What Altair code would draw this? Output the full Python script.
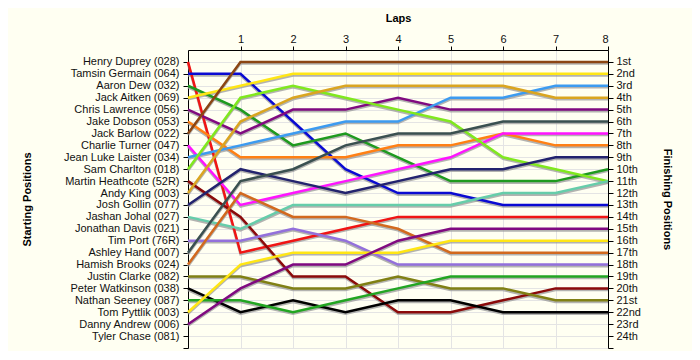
import json
import altair as alt
import pandas as pd

# Starting grid (starting position = index + 1)
drivers = [
    "Henry Duprey (028)", "Tamsin Germain (064)", "Aaron Dew (032)", "Jack Aitken (069)",
    "Chris Lawrence (056)", "Jake Dobson (053)", "Jack Barlow (022)", "Charlie Turner (047)",
    "Jean Luke Laister (034)", "Sam Charlton (018)", "Martin Heathcote (52R)", "Andy King (003)",
    "Josh Gollin (077)", "Jashan Johal (027)", "Jonathan Davis (021)", "Tim Port (76R)",
    "Ashley Hand (007)", "Hamish Brooks (024)", "Justin Clarke (082)", "Peter Watkinson (038)",
    "Nathan Seeney (087)", "Tom Pyttlik (003)", "Danny Andrew (006)", "Tyler Chase (081)",
]

finish_labels = [
    "1st", "2nd", "3rd", "4th", "5th", "6th", "7th", "8th", "9th", "10th", "11th", "12th",
    "13th", "14th", "15th", "16th", "17th", "18th", "19th", "20th", "21st", "22nd", "23rd", "24th",
]

laps = [0, 1, 2, 3, 4, 5, 6, 7, 8]

# Position at the end of each lap (lap 0 = grid)
p_duprey     = [1, 17, 16, 15, 14, 14, 14, 14, 14]
p_germain    = [2, 2, 6, 10, 12, 12, 13, 13, 13]
p_dew        = [3, 5, 8, 7, 9, 11, 11, 11, 10]
p_aitken     = [4, 3, 2, 2, 2, 2, 2, 2, 2]
p_lawrence   = [5, 7, 5, 5, 4, 5, 5, 5, 5]
p_dobson     = [6, 9, 9, 9, 8, 8, 7, 8, 8]
p_barlow     = [7, 1, 1, 1, 1, 1, 1, 1, 1]
p_turner     = [8, 13, 12, 11, 10, 9, 7, 7, 7]
p_laister    = [9, 8, 7, 6, 6, 4, 4, 3, 3]
p_charlton   = [10, 4, 3, 4, 5, 6, 9, 10, 11]
p_heathcote  = [11, 14, 19, 19, 22, 22, 21, 20, 20]
p_king       = [12, 6, 4, 3, 3, 3, 3, 4, 4]
p_gollin     = [13, 10, 11, 12, 11, 10, 10, 9, 9]
p_johal      = [14, 15, 13, 13, 13, 13, 12, 12, 11]
p_port       = [16, 16, 15, 16, 18, 18, 18, 18, 18]
p_hand       = [17, 11, 10, 8, 7, 7, 6, 6, 6]
p_brooks     = [18, 12, 14, 14, 15, 17, 17, 17, 17]
p_clarke     = [19, 19, 20, 20, 19, 20, 20, 21, 21]
p_watkinson  = [20, 22, 21, 22, 21, 21, 22, 22, 22]
p_seeney     = [21, 21, 22, 21, 20, 19, 19, 19, 19]
p_pyttlik    = [22, 18, 17, 17, 17, 16, 16, 16, 16]
p_andrew     = [23, 20, 18, 18, 16, 15, 15, 15, 15]

series = [
    ("Henry Duprey (028)", p_duprey, "#F01414"),
    ("Tamsin Germain (064)", p_germain, "#0A0AD2"),
    ("Aaron Dew (032)", p_dew, "#1E9A1E"),
    ("Jack Aitken (069)", p_aitken, "#FFE614"),
    ("Chris Lawrence (056)", p_lawrence, "#800A80"),
    ("Jake Dobson (053)", p_dobson, "#FF8014"),
    ("Jack Barlow (022)", p_barlow, "#8B4513"),
    ("Charlie Turner (047)", p_turner, "#FF14FF"),
    ("Jean Luke Laister (034)", p_laister, "#3C9BF0"),
    ("Sam Charlton (018)", p_charlton, "#80E81E"),
    ("Martin Heathcote (52R)", p_heathcote, "#8B0A0A"),
    ("Andy King (003)", p_king, "#DAA520"),
    ("Josh Gollin (077)", p_gollin, "#23236E"),
    ("Jashan Johal (027)", p_johal, "#66CDAA"),
    ("Tim Port (76R)", p_port, "#9370DB"),
    ("Ashley Hand (007)", p_hand, "#3A5050"),
    ("Hamish Brooks (024)", p_brooks, "#D2691E"),
    ("Justin Clarke (082)", p_clarke, "#808014"),
    ("Peter Watkinson (038)", p_watkinson, "#000000"),
    ("Nathan Seeney (087)", p_seeney, "#22A522"),
    ("Tom Pyttlik (003)", p_pyttlik, "#FFE614"),
    ("Danny Andrew (006)", p_andrew, "#800A80"),
]

rows = []
for name, pos, _ in series:
    for lap, p in zip(laps, pos):
        rows.append({"driver": name, "lap": lap, "pos": p})
df = pd.DataFrame(rows)

color_scale = alt.Scale(domain=[s[0] for s in series], range=[s[2] for s in series])

left_expr = json.dumps([""] + drivers + [""]) + "[datum.value]"
right_expr = json.dumps([""] + finish_labels + [""]) + "[datum.value]"

FONT = "Liberation Sans"

x_enc = alt.X(
    "lap:Q",
    scale=alt.Scale(domain=[0, 8], nice=False, zero=False),
    axis=alt.Axis(
        orient="top", values=list(range(1, 9)), title="Laps", format="d",
        grid=True, gridColor="#E4E4E4", tickSize=4, labelPadding=2,
        titleY=-32, titleBaseline="middle",
    ),
)

y_left = alt.Y(
    "pos:Q",
    scale=alt.Scale(domain=[0, 25], reverse=True, nice=False, zero=False),
    axis=alt.Axis(
        orient="left", values=list(range(1, 26)), labelExpr=left_expr,
        title="Starting Positions", grid=True, gridColor="#E4E4E4",
        tickSize=5, labelPadding=4, titleAngle=-90, titleX=-161, titleY=149,
        titleBaseline="middle", titleAlign="center",
    ),
)

y_right = alt.Y(
    "pos:Q",
    scale=alt.Scale(domain=[0, 25], reverse=True, nice=False, zero=False),
    axis=alt.Axis(
        orient="right", values=list(range(1, 26)), labelExpr=right_expr,
        title="Finishing Positions", grid=False,
        tickSize=5, labelPadding=3, titleAngle=90, titleX=58, titleY=149,
        titleBaseline="middle", titleAlign="center",
    ),
)

shadow = alt.Chart(df).mark_line(color="#9A9A9A", strokeWidth=2.5, yOffset=1.6, opacity=0.75).encode(
    x=x_enc, y=y_left, detail="driver:N"
)

lines = alt.Chart(df).mark_line(strokeWidth=2.5).encode(
    x=x_enc,
    y=y_right,
    color=alt.Color("driver:N", scale=color_scale, legend=None),
    detail="driver:N",
)

chart = (
    alt.layer(shadow, lines)
    .resolve_scale(y="independent")
    .properties(
        width=420, height=298, autosize="none",
        padding={"left": 180, "top": 42, "right": 84, "bottom": 3},
        background="#FFFFF2",
    )
    .configure_view(stroke=None)
    .configure_axis(
        labelFont=FONT, titleFont=FONT, labelFontSize=11, titleFontSize=11,
        labelColor="#111111", titleColor="#000000", titleFontWeight="bold",
        domainColor="#000000", tickColor="#000000", domainWidth=1, tickWidth=1,
        labelAngle=0,
    )
)

chart.save("out.html", embed_options={"renderer": "svg", "actions": False})
